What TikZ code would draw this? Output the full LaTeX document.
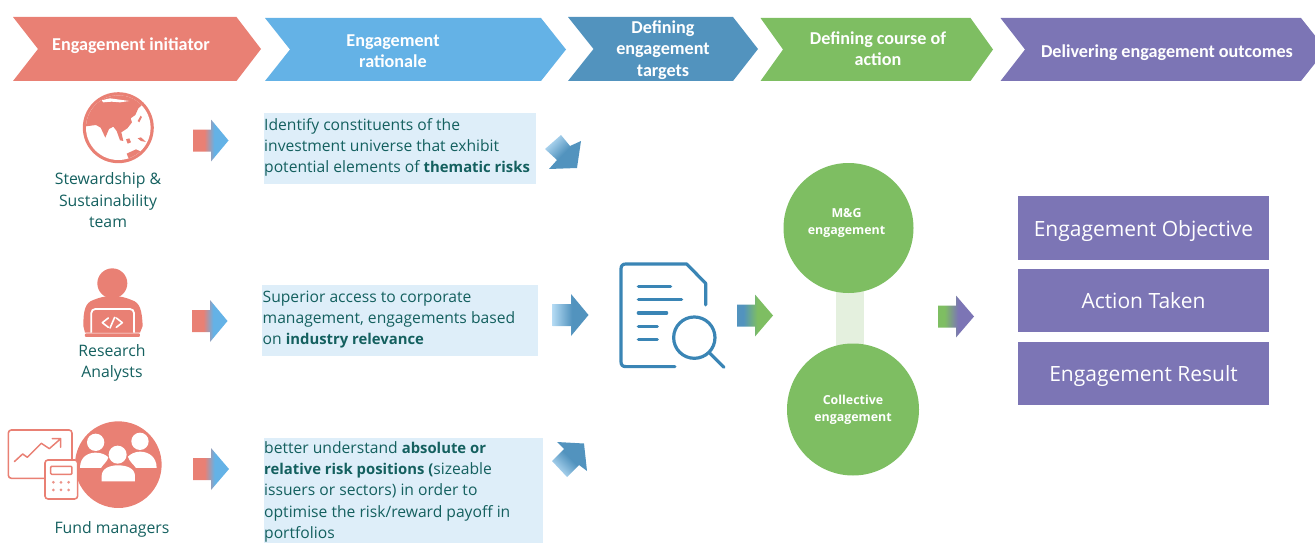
\documentclass[tikz,border=0pt]{standalone}
\usepackage{fontspec}
\setmainfont{Open Sans}
\newfontfamily\hdfont{Carlito}
\usetikzlibrary{shadings}
\definecolor{salmon}{HTML}{E98074}
\definecolor{skyb}{HTML}{64B2E6}
\definecolor{deepb}{HTML}{5293BE}
\definecolor{lightb}{HTML}{B4DAF3}
\definecolor{leaf}{HTML}{7EBE62}
\definecolor{violet}{HTML}{7C75B5}
\definecolor{paleb}{HTML}{DEEEF9}
\definecolor{paleg}{HTML}{E4F0DE}
\definecolor{teal}{HTML}{14605F}
\definecolor{iconb}{HTML}{3A85B5}
\pgfdeclarehorizontalshading{sbshade}{100bp}{color(0bp)=(salmon); color(41bp)=(salmon); color(55bp)=(skyb); color(100bp)=(skyb)}
\pgfdeclarehorizontalshading{ldshade}{100bp}{color(0bp)=(lightb); color(25bp)=(lightb); color(52bp)=(deepb); color(100bp)=(deepb)}
\pgfdeclarehorizontalshading{dgshade}{100bp}{color(0bp)=(deepb); color(34bp)=(deepb); color(53bp)=(leaf); color(100bp)=(leaf)}
\pgfdeclarehorizontalshading{gvshade}{100bp}{color(0bp)=(leaf); color(34bp)=(leaf); color(53bp)=(violet); color(100bp)=(violet)}
\newcommand{\hilite}[1]{{\bfseries\fontsize{14.85}{21.3}\selectfont #1}}
\tikzset{
  hdtext/.style={text=white,align=center,font=\hdfont\bfseries\fontsize{18.15}{21.3}\selectfont,inner sep=0pt},
  bodytext/.style={text=teal,align=left,anchor=north west,inner sep=0pt,font=\fontsize{15.65}{21.3}\selectfont},
  whotext/.style={text=teal,align=center,inner sep=0pt,font=\fontsize{15.8}{21.5}\selectfont},
  circtext/.style={text=white,align=center,inner sep=0pt,font=\bfseries\fontsize{12.4}{17}\selectfont},
  boxtext/.style={text=white,align=center,inner sep=0pt,font=\fontsize{21}{26}\selectfont},
  purplebox/.style={fill=violet,draw=none},
  icon/.style={draw=iconb,line width=3.2pt,line cap=round,line join=round},
  barline/.style={draw=salmon,line cap=round,line join=round},
}
\newcommand{\harrow}[5]{% x0 xmid xtip ycentre shade
  \path[shading=#5] (#1,#4-11) -- (#2,#4-11) -- (#2,#4-21) -- (#3,#4) -- (#2,#4+21) -- (#2,#4+11) -- (#1,#4+11) -- cycle;
}
\begin{document}
\begin{tikzpicture}[x=1pt,y=-1pt]
\useasboundingbox (0,0) rectangle (1315,543);
\clip (0,0) rectangle (1315,543);

% header chevrons
\fill[salmon] (13,17) -- (236.5,17) -- (261,49) -- (236.5,81) -- (13,81) -- (38,49) -- cycle;
\fill[skyb] (265,18) -- (541,18) -- (566,49.5) -- (541,81) -- (265,81) -- (290,49.5) -- cycle;
\fill[deepb] (568,17) -- (733,17) -- (758,49) -- (733,81) -- (568,81) -- (593.5,49) -- cycle;
\fill[leaf] (760.5,18) -- (970.5,18) -- (993,49.5) -- (970.5,81) -- (760.5,81) -- (783,49.5) -- cycle;
\fill[violet] (1000.5,18) -- (1301,18) -- (1326,49.5) -- (1301,81) -- (1000.5,81) -- (1025,49.5) -- cycle;
\node[hdtext] (h1) at (131,45.5) {Engagement initiator};
\node[hdtext] (h2) at (393,51) {Engagement\\rationale};
\node[hdtext] (h3) at (663,50) {Defining\\engagement\\targets};
\node[hdtext] (h4) at (878,49) {Defining course of\\action};
\node[hdtext] (h5) at (1167,52.5) {Delivering engagement outcomes};

% globe
\fill[salmon] (118.3,127.7) circle (35.5);
\fill[white] (118.3,127.7) circle (32.3);
\begin{scope}[x=0.3333pt,y=-0.3333pt,xshift=70pt,yshift=-85pt]
  \clip (145,128) circle (97);
  \fill[salmon] (40,125) -- (78,120) -- (92,128) -- (106,158) -- (117,132) -- (130,125) -- (140,138) -- (150,166) -- (160,168) -- (154,142) -- (172,130) -- (186,112) -- (182,100) -- (196,90) -- (205,70) -- (216,60) -- (205,25) -- (100,20) -- (50,70) -- cycle;
  \fill[white] (95,46) -- (120,40) -- (178,48) -- (150,52) -- (125,50) -- (100,52) -- cycle;
  \fill[salmon] (203,108) -- (212,92) -- (216,96) -- (208,112) -- cycle;
  \fill[salmon] (168,163) -- (178,160) -- (183,172) -- (173,176) -- cycle;
  \fill[salmon] (203,160) -- (213,157) -- (228,171) -- (213,168) -- cycle;
  \fill[salmon] (170,206) -- (198,193) -- (220,203) -- (235,230) -- (180,230) -- cycle;
\end{scope}
\node[whotext] (w1) at (108,200.5) {Stewardship \&\\Sustainability\\team};

% analyst
\begin{scope}[x=0.3333pt,y=-0.3333pt,yshift=-260pt]
  \fill[salmon] (337,70) circle (45);
  \fill[salmon] (250,198) .. controls (250,150) and (256,128) .. (280,120) .. controls (300,112) and (315,108) .. (337,108) .. controls (360,108) and (375,112) .. (395,120) .. controls (420,128) and (426,150) .. (428,198) -- (420,218) -- (255,218) -- cycle;
  \draw[white,line width=1.8pt,fill=salmon,rounded corners=4pt] (274,218) -- (274,147) -- (402,147) -- (402,218);
  \fill[salmon,rounded corners=1pt] (255,220) rectangle (420,231);
  \draw[white,line width=1.6pt,line cap=round,line join=round] (325,174) -- (307,188) -- (325,202) (349,174) -- (367,188) -- (349,202) (344,172) -- (330,204);
\end{scope}
\node[whotext] (w2) at (112,363) {Research\\Analysts};

% fund managers
\begin{scope}[x=0.3333pt,y=-0.3333pt,yshift=-260pt]
  \fill[salmon] (355,614) circle (130);
  \fill[white] (287,547) circle (26) (420,544) circle (26) (353,584) circle (27);
  \fill[white] (240,624) .. controls (240,590) and (265,578) .. (287,578) .. controls (305,578) and (318,585) .. (325,592) .. controls (322,605) and (310,612) .. (303,624) -- cycle;
  \fill[white] (470,624) .. controls (470,590) and (445,575) .. (420,575) .. controls (405,575) and (392,582) .. (384,590) .. controls (388,605) and (400,612) .. (408,624) -- cycle;
  \fill[white] (305,664) -- (305,648) .. controls (305,625) and (330,616) .. (354,616) .. controls (380,616) and (405,625) .. (405,648) -- (405,664) -- cycle;
  \draw[barline,line width=1.6pt,rounded corners=3pt] (25,510) rectangle (216,655);
  \draw[barline,line width=1.5pt] (43,605) -- (68,582) -- (82,592) -- (124,550) -- (148,566) -- (180,538) (157,536) -- (182,536) -- (182,562);
  \draw[barline,line width=1.6pt,fill=white,rounded corners=3pt] (135,600) rectangle (233,717);
  \draw[barline,line width=1.5pt,rounded corners=1pt] (152,619) rectangle (216,643);
  \fill[salmon!85!white] (160,667) circle (4.5) (183,667) circle (4.5) (206,667) circle (4.5) (160,690) circle (4.5) (183,690) circle (4.5) (206,690) circle (4.5);
\end{scope}
\node[whotext] (w3) at (112,529) {Fund managers};

% left gradient arrows
\harrow{193}{211}{228.5}{140.5}{sbshade}
\harrow{192}{210}{227.5}{321}{sbshade}
\harrow{193}{211}{229}{469}{sbshade}

% rationale boxes
\fill[paleb] (263.7,113) rectangle (536,183.5);
\fill[paleb] (262,285) rectangle (538,356);
\fill[paleb] (263.5,437.5) rectangle (543,543);
\node[bodytext] (r1) at (264,118) {Identify constituents of the\\investment universe that exhibit\\potential elements of \hilite{thematic risks}};
\node[bodytext] (r2) at (262.5,290.7) {Superior access to corporate\\management, engagements based\\on \hilite{industry relevance}};
\node[bodytext] (r3) at (264,441.3) {better understand \hilite{absolute or}\\\hilite{relative risk positions (}sizeable\\issuers or sectors) in order to\\optimise the risk/reward payoff in\\portfolios};

% blue arrows into the document
\path[shading=ldshade,shading angle=-45] (545,149) -- (561,135) -- (570,146) -- (581,141) -- (577,168) -- (549,169) -- (557,160) -- cycle;
\harrow{552.5}{571}{588.5}{315}{ldshade}
\path[shading=ldshade,shading angle=45] (552,461) -- (564,449) -- (557,442) -- (584,443.5) -- (587,471) -- (579,465) -- (567,477) -- cycle;

% document icon
\begin{scope}[x=0.3333pt,y=-0.3333pt,xshift=540pt,yshift=-130pt]
  \draw[icon] (497,525) -- (497,460) -- (440,402) -- (258,402) .. controls (248,402) and (243,407) .. (243,417) -- (243,695) .. controls (243,705) and (248,710) .. (258,710) -- (405,710);
  \draw[icon] (295,469) -- (392,469) (295,509) -- (425,509) (295,549) -- (380,549) (295,589) -- (352,589) (295,629) -- (352,629);
  \draw[icon] (463,623) circle (62);
  \draw[icon] (510,670) -- (552,712);
\end{scope}

\harrow{737}{755}{773}{315.5}{dgshade}

% engagement circles
\fill[paleg] (835.5,288) rectangle (864,350);
\node[circle,fill=leaf,minimum size=130pt,inner sep=0pt] (c1) at (848.5,228) {};
\node[circle,fill=leaf,minimum size=132pt,inner sep=0pt] (c2) at (853,409.5) {};
\node[circtext] (t1) at (846.5,223) {M\&G\\engagement};
\node[circtext] (t2) at (853,410) {Collective\\engagement};

\harrow{938}{956}{974}{316.5}{gvshade}

% outcome boxes
\node[purplebox,minimum width=251pt,minimum height=64pt,inner sep=0pt] (b1) at (1143.5,228) {};
\node[purplebox,minimum width=251pt,minimum height=63pt,inner sep=0pt] (b2) at (1143.5,300.5) {};
\node[purplebox,minimum width=251pt,minimum height=63pt,inner sep=0pt] (b3) at (1143.5,373.5) {};
\node[boxtext] (o1) at (1143.5,231) {Engagement Objective};
\node[boxtext] (o2) at (1143.5,300.5) {Action Taken};
\node[boxtext] (o3) at (1143.5,376.5) {Engagement Result};
\end{tikzpicture}
\end{document}
